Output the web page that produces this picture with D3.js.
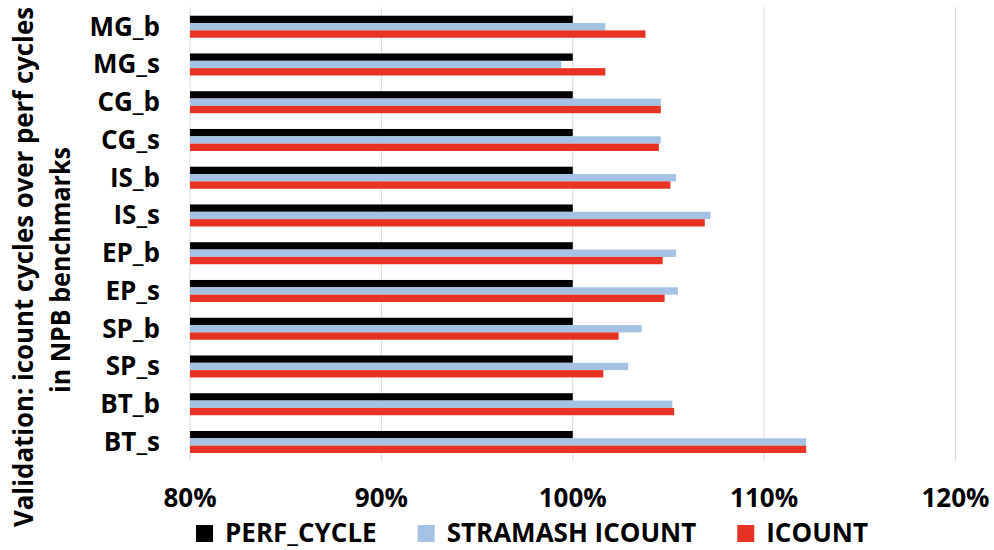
<!DOCTYPE html>
<html>
<head>
<meta charset="utf-8">
<script src="https://cdn.jsdelivr.net/npm/d3@7"></script>
<style>
  html, body { margin: 0; padding: 0; background: #fff; }
  svg text { font-family: "Open Sans", "Noto Sans", sans-serif; font-weight: bold; fill: #000; }
</style>
</head>
<body>
<svg id="chart" width="994" height="550"></svg>
<script>
// NPB benchmarks, listed top to bottom
const categories = ["MG_b", "MG_s", "CG_b", "CG_s", "IS_b", "IS_s", "EP_b", "EP_s", "SP_b", "SP_s", "BT_b", "BT_s"];
const seriesNames = ["PERF_CYCLE", "STRAMASH ICOUNT", "ICOUNT"];
const seriesColors = ["#000000", "#a4c2e4", "#e83223"];

// cycles relative to perf cycles
const perfCycle      = [1.000, 1.000, 1.000, 1.000, 1.000, 1.000, 1.000, 1.000, 1.000, 1.000, 1.000, 1.000];
const stramashIcount = [1.017, 0.994, 1.046, 1.046, 1.054, 1.072, 1.054, 1.055, 1.036, 1.029, 1.052, 1.122];
const icount         = [1.038, 1.017, 1.046, 1.045, 1.051, 1.069, 1.047, 1.048, 1.024, 1.016, 1.053, 1.122];

const tickValues = [0.8, 0.9, 1.0, 1.1, 1.2];
const titleLines = ["Validation: icount cycles over perf cycles", "in NPB benchmarks"];

const seriesValues = [perfCycle, stramashIcount, icount];
const rows = categories.map((c, i) => ({
  category: c,
  values: seriesNames.map((s, k) => ({ series: s, value: seriesValues[k][i], color: seriesColors[k] }))
}));

const svg = d3.select("#chart");

const x = d3.scaleLinear().domain([0.8, 1.2]).range([190, 955.5]);
const y = d3.scaleBand().domain(categories).range([7.85, 460.85])
  .paddingInner(0.417).paddingOuter(0.2085);
const ySub = d3.scaleBand().domain(seriesNames).range([0, y.bandwidth()]);

// vertical gridlines
svg.append("g").selectAll("line")
  .data(tickValues)
  .join("line")
  .attr("x1", d => x(d)).attr("x2", d => x(d))
  .attr("y1", 7).attr("y2", 461)
  .attr("stroke", "#d9d9d9").attr("stroke-width", 1);

// bars
const groups = svg.append("g").selectAll("g")
  .data(rows)
  .join("g")
  .attr("transform", d => `translate(0,${y(d.category)})`);

groups.selectAll("rect")
  .data(d => d.values)
  .join("rect")
  .attr("x", x(0.8))
  .attr("y", d => ySub(d.series))
  .attr("width", d => x(d.value) - x(0.8))
  .attr("height", ySub.bandwidth())
  .attr("fill", d => d.color);

// category labels
svg.append("g").selectAll("text")
  .data(categories)
  .join("text")
  .attr("x", 160)
  .attr("y", d => y(d) + y.bandwidth() / 2 + 9)
  .attr("text-anchor", "end")
  .attr("font-size", 26)
  .text(d => d);

// value axis tick labels
svg.append("g").selectAll("text")
  .data(tickValues)
  .join("text")
  .attr("x", d => x(d))
  .attr("y", 507)
  .attr("text-anchor", "middle")
  .attr("font-size", 26)
  .text(d => d3.format(".0%")(d));

// axis title, two rotated lines, condensed to fit the chart height
const titleLengths = [520, 246];
svg.append("g").selectAll("text")
  .data(titleLines)
  .join("text")
  .attr("transform", (d, i) => `translate(${i === 0 ? 33 : 70},${i === 0 ? 267 : 270}) rotate(-90)`)
  .attr("text-anchor", "middle")
  .attr("font-size", 26)
  .attr("textLength", (d, i) => titleLengths[i])
  .attr("lengthAdjust", "spacingAndGlyphs")
  .text(d => d);

// legend
const legend = svg.append("g");
const items = legend.selectAll("g")
  .data(seriesNames)
  .join("g");
items.append("rect")
  .attr("width", 17).attr("height", 17)
  .attr("y", 525)
  .attr("fill", (d, i) => seriesColors[i]);
items.append("text")
  .attr("x", 29)
  .attr("y", 542)
  .attr("font-size", 26)
  .text(d => d);

let cursor = 0;
const offsets = [];
items.each(function () {
  offsets.push(cursor);
  const w = d3.select(this).select("text").node().getComputedTextLength();
  cursor += 29 + w + 41;
});
const total = cursor - 41;
const start = 532 - total / 2;
items.attr("transform", (d, i) => `translate(${start + offsets[i]},0)`);
</script>
</body>
</html>
